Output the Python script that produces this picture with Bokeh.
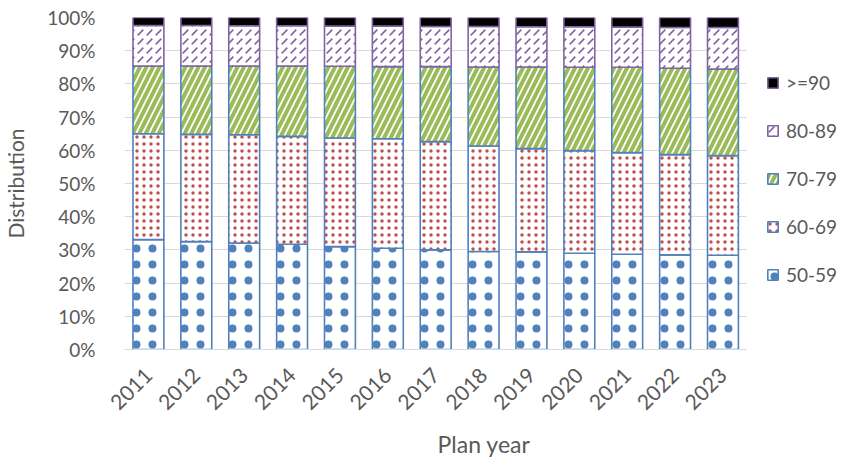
from math import pi
from bokeh.plotting import figure
from bokeh.models import (Legend, LegendItem, NumeralTickFormatter,
                          Range1d, FixedTicker, ColumnDataSource)
from bokeh.embed import file_html
from bokeh.resources import INLINE

# ---- data (percent of plan members by age band) ----
years = ["2011", "2012", "2013", "2014", "2015", "2016", "2017",
         "2018", "2019", "2020", "2021", "2022", "2023"]
age_50_59 = [33.1, 32.5, 32.1, 31.7, 31.0, 30.5, 30.0, 29.5, 29.4, 29.0, 28.7, 28.5, 28.4]
age_60_69 = [31.9, 32.3, 32.6, 32.5, 32.7, 33.0, 32.6, 31.8, 31.1, 30.9, 30.6, 30.2, 30.0]
age_70_79 = [20.4, 20.6, 20.7, 21.2, 21.6, 21.7, 22.6, 23.8, 24.6, 25.1, 25.7, 26.0, 26.1]
age_80_89 = [12.2, 12.2, 12.1, 12.1, 12.1, 12.2, 12.1, 12.2, 12.1, 12.2, 12.1, 12.3, 12.5]
age_90_up = [2.4, 2.4, 2.5, 2.5, 2.6, 2.6, 2.7, 2.7, 2.8, 2.8, 2.9, 3.0, 3.0]
series_labels = ["50-59", "60-69", "70-79", "80-89", ">=90"]
y_ticks = [0.0, 0.1, 0.2, 0.3, 0.4, 0.5, 0.6, 0.7, 0.8, 0.9, 1.0]

keys = ["a50", "a60", "a70", "a80", "a90"]
series = [age_50_59, age_60_69, age_70_79, age_80_89, age_90_up]
xpos = list(range(1, len(years) + 1))        # category slots
data = {"x": xpos}
for k, vals in zip(keys, series):
    data[k] = [v / 100.0 for v in vals]
src = ColumnDataSource(data)

BLUE = "#4F81BD"
RED = "#C0504D"
GREEN = "#9BBB59"
PURPLE = "#8064A2"
TEXT = "#595959"
GRID = "#D9D9D9"
FONT = "Lato"

W, H = 843, 464
LEFT, TOP, BOTTOM = 121, 17, 115
CAT_AREA = 625          # pixel width occupied by the 13 categories
n = len(years)
x_end = 0.5 + n * (W - LEFT) / CAT_AREA

p = figure(x_range=Range1d(0.5, x_end), y_range=Range1d(0, 1),
           width=W, height=H, output_backend="svg", toolbar_location=None,
           min_border_left=LEFT, min_border_right=0, min_border_top=TOP,
           min_border_bottom=BOTTOM)
p.outline_line_color = None
p.background_fill_color = "white"

rs = p.vbar_stack(keys, x="x", width=0.645, source=src,
                  fill_color=["white", "white", "white", "white", "black"],
                  line_color=[BLUE, BLUE, BLUE, PURPLE, PURPLE],
                  line_width=1.6,
                  hatch_pattern=["dot", "dot", "right_diagonal_line", "right_diagonal_dash", " "],
                  hatch_color=[BLUE, RED, GREEN, PURPLE, "black"],
                  hatch_scale=[16, 7, 13, 9, 6],
                  hatch_weight=[7.5, 3, 4, 1.6, 1])

# y axis
p.yaxis.ticker = FixedTicker(ticks=y_ticks)
p.yaxis.formatter = NumeralTickFormatter(format="0%")
p.yaxis.axis_line_color = None
p.yaxis.major_tick_line_color = None
p.yaxis.minor_tick_line_color = None
p.yaxis.major_label_standoff = 23
p.yaxis.major_label_text_font = FONT
p.yaxis.major_label_text_font_size = "19px"
p.yaxis.major_label_text_color = TEXT
p.yaxis.axis_label = "Distribution"
p.yaxis.axis_label_text_font = FONT
p.yaxis.axis_label_text_font_size = "21px"
p.yaxis.axis_label_text_font_style = "normal"
p.yaxis.axis_label_text_color = TEXT
p.yaxis.axis_label_standoff = 16

# x axis
p.xaxis.ticker = FixedTicker(ticks=xpos)
p.xaxis.major_label_overrides = {x: y for x, y in zip(xpos, years)}
p.xaxis.bounds = (0.5, n + 0.5)
p.xaxis.axis_line_color = GRID
p.xaxis.major_tick_line_color = None
p.xaxis.minor_tick_line_color = None
p.xaxis.major_label_orientation = pi / 4
p.xaxis.major_label_standoff = 16
p.xaxis.major_label_text_font = FONT
p.xaxis.major_label_text_font_size = "21px"
p.xaxis.major_label_text_color = TEXT
p.xaxis.axis_label = "Plan year"
p.xaxis.axis_label_text_font = FONT
p.xaxis.axis_label_text_font_size = "23px"
p.xaxis.axis_label_text_font_style = "normal"
p.xaxis.axis_label_text_color = TEXT
p.xaxis.axis_label_standoff = 10

p.xgrid.grid_line_color = None
p.ygrid.grid_line_color = GRID
p.ygrid.grid_line_width = 1
p.ygrid.cross_bounds = (0.5, n + 0.5)

items = [LegendItem(label=series_labels[i], renderers=[rs[i]]) for i in range(4, -1, -1)]
legend = Legend(items=items, location=(642, 63))
legend.border_line_color = None
legend.background_fill_alpha = 0
legend.padding = 0
legend.margin = 0
legend.label_text_font = FONT
legend.label_text_font_size = "19px"
legend.label_text_color = TEXT
legend.glyph_width = 13
legend.glyph_height = 13
legend.label_height = 20
legend.spacing = 25
legend.label_standoff = 7
p.add_layout(legend)

open("out.html", "w").write(file_html(p, INLINE))
